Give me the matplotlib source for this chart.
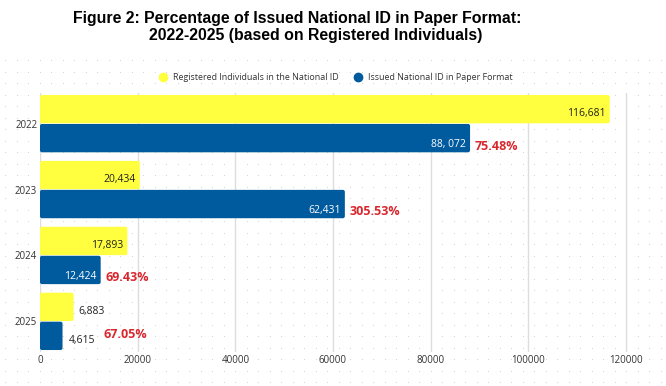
import numpy as np
import matplotlib
matplotlib.use('Agg')
import matplotlib.pyplot as plt
from matplotlib.lines import Line2D
from matplotlib.patches import FancyBboxPatch

# data
years = ['2022', '2023', '2024', '2025']
registered = [116681, 20434, 17893, 6883]
issued = [88072, 62431, 12424, 4615]
registered_labels = ['116,681', '20,434', '17,893', '6,883']
issued_labels = ['88, 072', '62,431', '12,424', '4,615']
pct_labels = ['75.48%', '305.53%', '69.43%', '67.05%']
xticks = [0, 20000, 40000, 60000, 80000, 100000, 120000]

yellow = '#ffff3f'
blue = '#005a9e'
red = '#d9272e'
font = 'Open Sans'

fig = plt.figure(figsize=(6.66, 3.86), dpi=100)
fig.patch.set_facecolor('white')

# dotted background over the whole figure
bg = fig.add_axes([0, 0, 1, 1], zorder=-5)
bg.set_xlim(0, 666)
bg.set_ylim(386, 0)
gx, gy = np.meshgrid(np.arange(5, 666, 11.5), np.arange(60, 386, 11.5))
bg.scatter(gx.ravel(), gy.ravel(), s=0.6, color='#d0d0d0', linewidths=0)
bg.axis('off')

ax = fig.add_axes([40 / 666, 1 - 352 / 386, 1 - 40 / 666, (352 - 93) / 386])
ax.patch.set_alpha(0)
xmax = 128200
ax.set_xlim(0, xmax)
ax.set_ylim(3.465, -0.465)

y = np.arange(len(years))
h = 0.43
off = 0.22
bars1 = ax.barh(y - off, registered, height=h, color=yellow, zorder=3)
bars2 = ax.barh(y + off, issued, height=h, color=blue, zorder=3)

# swap rectangles for slightly rounded boxes
rx = 2 * xmax / 626
ry = 2 / 65.5
for b in list(bars1) + list(bars2):
    b.set_visible(False)
    ax.add_patch(FancyBboxPatch((b.get_x(), b.get_y()), b.get_width(), b.get_height(),
                                boxstyle='round,pad=0,rounding_size=%f' % rx,
                                mutation_aspect=ry / rx, facecolor=b.get_facecolor(),
                                edgecolor='none', zorder=3))

# value labels
for i in range(len(years)):
    if registered[i] > 10000:
        ax.text(registered[i] - 800, i - off + 0.07, registered_labels[i], ha='right', va='center',
                fontsize=7.5, color='#222222', family=font, zorder=4)
    else:
        ax.text(registered[i] + 1000, i - off + 0.07, registered_labels[i], ha='left', va='center',
                fontsize=7.5, color='#222222', family=font, zorder=4)
    if issued[i] > 10000:
        ax.text(issued[i] - 800, i + off + 0.1, issued_labels[i], ha='right', va='center',
                fontsize=7.5, color='white', family=font, zorder=4)
        px = issued[i] + 1000
    else:
        ax.text(issued[i] + 1300, i + off + 0.07, issued_labels[i], ha='left', va='center',
                fontsize=7.5, color='#222222', family=font, zorder=4)
        px = issued[i] + 8300
    dy = 0.12 if i < 3 else -0.02
    ax.text(px, i + off + dy, pct_labels[i], ha='left', va='center', fontsize=9,
            fontweight='bold', color=red, family=font, zorder=4)

ax.set_yticks(y)
ax.set_yticklabels(years, fontsize=7, family=font, color='#333333')
ax.set_xticks(xticks)
ax.set_xticklabels([str(t) for t in xticks], fontsize=7, family=font, color='#333333')
ax.tick_params(length=0)
ax.tick_params(axis='x', pad=2)
ax.tick_params(axis='y', pad=2)
for s in ax.spines.values():
    s.set_visible(False)
ax.grid(axis='x', color='#dddddd', linewidth=1, zorder=0)

# legend
handles = [Line2D([], [], marker='o', linestyle='', markersize=6, color=yellow),
           Line2D([], [], marker='o', linestyle='', markersize=6, color=blue)]
fig.legend(handles, ['Registered Individuals in the National ID', 'Issued National ID in Paper Format'],
           loc='center', bbox_to_anchor=(333 / 666, 1 - 78 / 386), ncol=2, frameon=False,
           prop={'family': font, 'size': 6.4}, handletextpad=0.1, columnspacing=1.2,
           labelcolor='#333333')

# title, two lines as in the original (second line sits a bit to the right)
fig.text(297 / 666, 1 - 23 / 386, 'Figure 2: Percentage of Issued National ID in Paper Format:',
         ha='center', va='baseline', fontsize=11.45, fontweight='bold', family='Liberation Sans')
fig.text(316 / 666, 1 - 40 / 386, '2022-2025 (based on Registered Individuals)',
         ha='center', va='baseline', fontsize=11.45, fontweight='bold', family='Liberation Sans')

fig.savefig('out.png', dpi=100)
